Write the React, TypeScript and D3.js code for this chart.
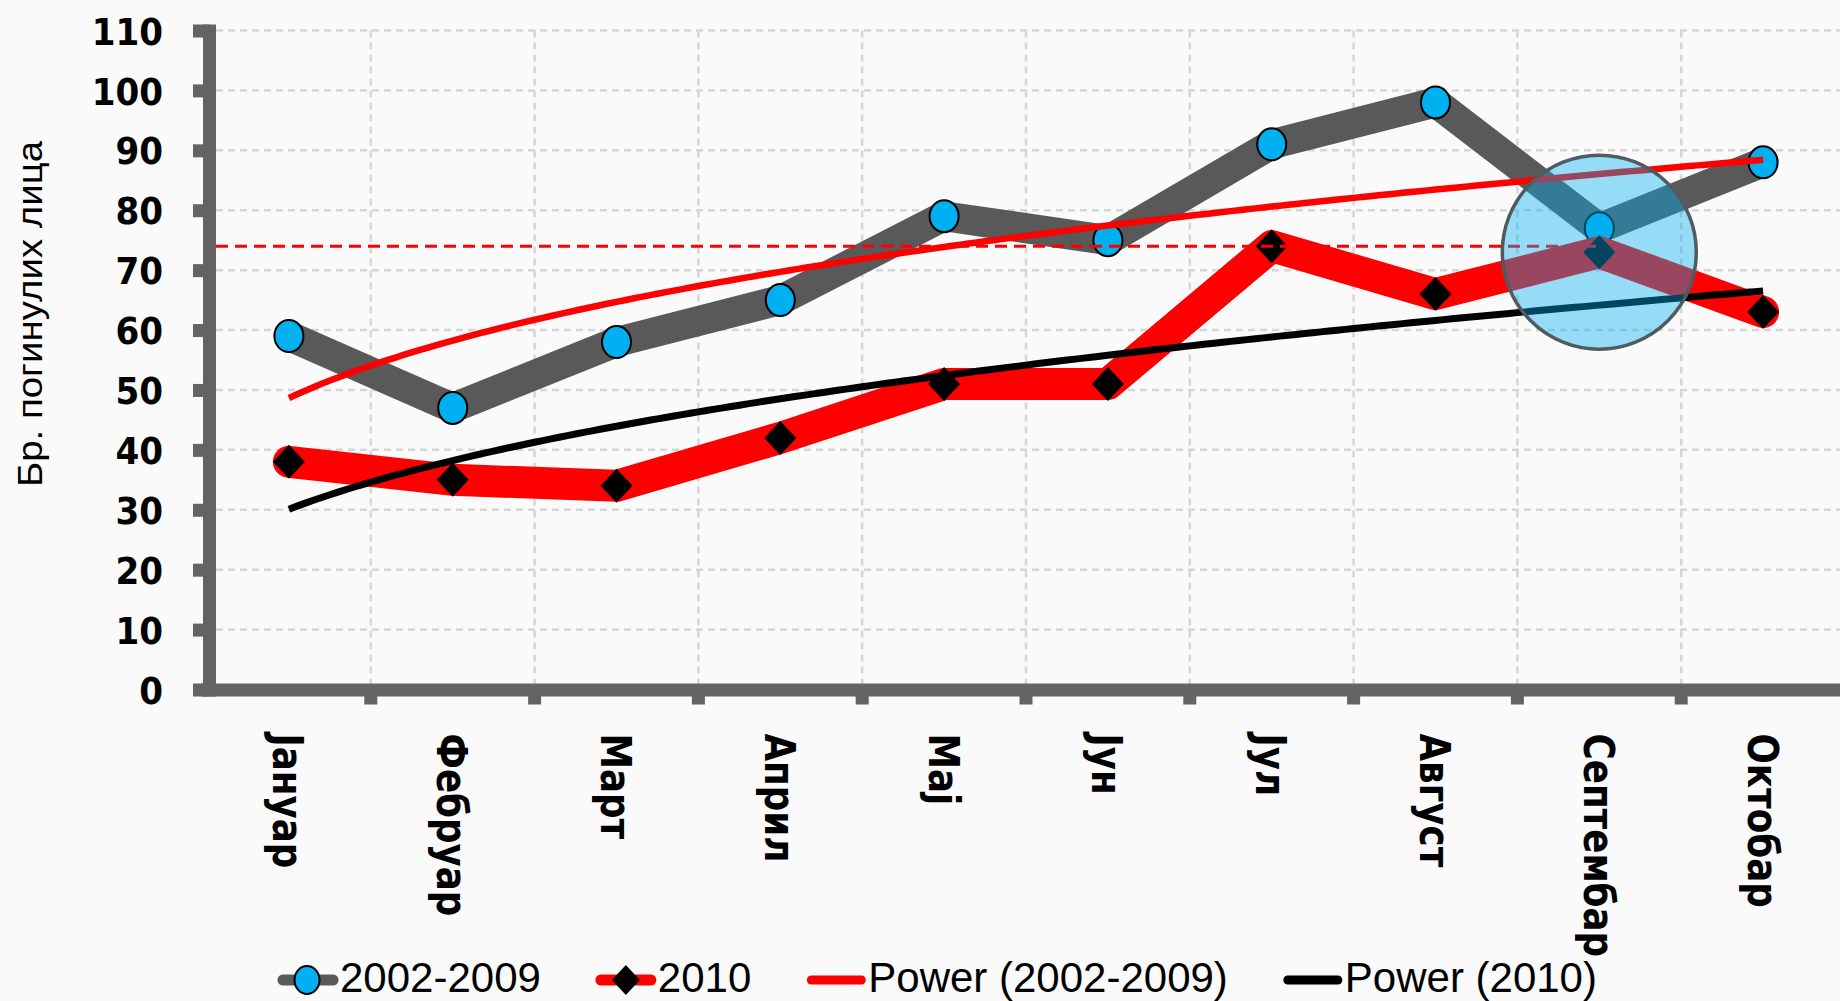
import { useEffect, useRef } from 'react';
import * as d3 from 'd3';

const months = ['Јануар', 'Фебруар', 'Март', 'Април', 'Мај', 'Јун', 'Јул', 'Август', 'Септембар', 'Октобар'];
const avg2002to2009 = [59, 47, 58, 65, 79, 75, 91, 98, 77, 88];
const year2010 = [38, 35, 34, 42, 51, 51, 74, 66, 73, 63];
const yTicks = [0, 10, 20, 30, 40, 50, 60, 70, 80, 90, 100, 110];
const legendLabels = ['2002-2009', '2010', 'Power (2002-2009)', 'Power (2010)'];
const yTitle = 'Бр. погинулих лица';
const refLevel = 74; // dashed line at the July 2010 peak
const refEndMonth = 'Септембар';
const highlightMonth = 'Септембар';

// same fit as an Excel power trendline: least squares on ln(x), ln(y)
function powerFit(values: number[]) {
  const lx = values.map((_, i) => Math.log(i + 1));
  const ly = values.map(v => Math.log(v));
  const mx = d3.mean(lx) as number;
  const my = d3.mean(ly) as number;
  const b = d3.sum(lx, (v, i) => (v - mx) * (ly[i] - my)) / d3.sum(lx, v => (v - mx) ** 2);
  const a = Math.exp(my - b * mx);
  return (x: number) => a * Math.pow(x, b);
}

const W = 1840;
const H = 1001;

const App = () => {
  const svgRef = useRef<SVGSVGElement>(null);

  useEffect(() => {
    const svg = d3.select(svgRef.current);
    svg.selectAll('*').remove();

    const x = d3.scaleBand().domain(months).range([207, 1845]);
    const y = d3.scaleLinear().domain([0, 110]).range([689.5, 30.5]);
    const cx = (m: string) => (x(m) as number) + x.bandwidth() / 2;
    const xi = d3.scaleLinear().domain([1, months.length]).range([cx(months[0]), cx(months[months.length - 1])]);

    svg.append('rect').attr('width', W).attr('height', H).attr('fill', '#fafafa');

    // grid
    const grid = svg.append('g')
      .attr('stroke', '#d6d6d6')
      .attr('stroke-width', 2.5)
      .attr('stroke-dasharray', '7,5');
    grid.selectAll('line.h')
      .data(yTicks.filter(t => t > 0))
      .join('line')
      .attr('class', 'h')
      .attr('x1', 216).attr('x2', W)
      .attr('y1', d => y(d)).attr('y2', d => y(d));
    grid.selectAll('line.v')
      .data(months.slice(1))
      .join('line')
      .attr('class', 'v')
      .attr('x1', d => x(d) as number).attr('x2', d => x(d) as number)
      .attr('y1', y(110)).attr('y2', y(0));

    // axes
    const axisColor = '#636363';
    const gy = svg.append('g')
      .attr('transform', 'translate(209,0)')
      .call(d3.axisLeft(y).tickValues(yTicks).tickSizeInner(16).tickSizeOuter(0).tickPadding(30));
    gy.select('.domain').attr('stroke', axisColor).attr('stroke-width', 13).attr('stroke-linecap', 'square');
    gy.selectAll('.tick line').attr('stroke', axisColor).attr('stroke-width', 13);
    gy.selectAll('.tick text')
      .attr('x', null)
      .attr('dy', '0.36em')
      .attr('transform', 'translate(-46,0) scale(0.9,1)')
      .attr('fill', '#000')
      .style('font-family', '"DejaVu Sans", Verdana, sans-serif')
      .style('font-weight', 'bold')
      .style('font-size', '38px');

    const gx = svg.append('g')
      .attr('transform', `translate(0,${y(0)})`)
      .call(d3.axisBottom(x).tickSize(0).tickSizeOuter(0));
    gx.select('.domain').attr('stroke', axisColor).attr('stroke-width', 13).attr('stroke-linecap', 'square');
    gx.selectAll('.tick text')
      .attr('y', null)
      .attr('dy', '0.36em')
      .attr('text-anchor', 'start')
      .attr('transform', 'translate(0,44) rotate(90) scale(0.83,1)')
      .attr('fill', '#000')
      .style('font-family', '"DejaVu Sans", Verdana, sans-serif')
      .style('font-weight', 'bold')
      .style('font-size', '43px');
    gx.selectAll('line.bound')
      .data(months.slice(1))
      .join('line')
      .attr('class', 'bound')
      .attr('x1', d => x(d) as number).attr('x2', d => x(d) as number)
      .attr('y1', 0).attr('y2', 15)
      .attr('stroke', axisColor).attr('stroke-width', 13);

    svg.append('text')
      .attr('transform', 'translate(42,314) rotate(-90)')
      .attr('text-anchor', 'middle')
      .attr('textLength', 346)
      .attr('lengthAdjust', 'spacingAndGlyphs')
      .style('font-family', '"Liberation Sans", Arial, sans-serif')
      .style('font-size', '35px')
      .attr('fill', '#000')
      .text(yTitle);

    const line = d3.line<number>()
      .x((_, i) => cx(months[i]))
      .y(d => y(d));

    const diamond = (px: number, py: number, hw: number, hh: number) =>
      `M${px},${py - hh}L${px + hw},${py}L${px},${py + hh}L${px - hw},${py}Z`;

    // series 2002-2009
    svg.append('path')
      .datum(avg2002to2009)
      .attr('d', line)
      .attr('fill', 'none')
      .attr('stroke', '#595959')
      .attr('stroke-width', 30)
      .attr('stroke-linejoin', 'round')
      .attr('stroke-linecap', 'round');
    svg.append('g')
      .selectAll('ellipse')
      .data(avg2002to2009)
      .join('ellipse')
      .attr('cx', (_, i) => cx(months[i]))
      .attr('cy', d => y(d))
      .attr('rx', 14.5)
      .attr('ry', 16)
      .attr('fill', '#00b0f0')
      .attr('stroke', '#000')
      .attr('stroke-width', 2);

    // series 2010
    svg.append('path')
      .datum(year2010)
      .attr('d', line)
      .attr('fill', 'none')
      .attr('stroke', '#ff0000')
      .attr('stroke-width', 32)
      .attr('stroke-linejoin', 'round')
      .attr('stroke-linecap', 'round');
    svg.append('g')
      .selectAll('path')
      .data(year2010)
      .join('path')
      .attr('d', (d, i) => diamond(cx(months[i]), y(d), 16, 17))
      .attr('fill', '#000');

    // power trendlines
    const steps = d3.range(1, months.length + 0.001, 0.05);
    const trendLine = d3.line<number[]>().x(d => xi(d[0])).y(d => y(d[1]));
    const fitA = powerFit(avg2002to2009);
    const fitB = powerFit(year2010);
    svg.append('path')
      .attr('d', trendLine(steps.map(s => [s, fitA(s)])))
      .attr('fill', 'none').attr('stroke', '#ff0000').attr('stroke-width', 6.5);
    svg.append('path')
      .attr('d', trendLine(steps.map(s => [s, fitB(s)])))
      .attr('fill', 'none').attr('stroke', '#000').attr('stroke-width', 7);

    // dashed reference line
    svg.append('line')
      .attr('x1', 216).attr('x2', cx(refEndMonth))
      .attr('y1', y(refLevel)).attr('y2', y(refLevel))
      .attr('stroke', '#ff0000').attr('stroke-width', 3)
      .attr('stroke-dasharray', '12,7');

    // highlight circle
    const hi = months.indexOf(highlightMonth);
    svg.append('circle')
      .attr('cx', cx(highlightMonth))
      .attr('cy', y(year2010[hi]))
      .attr('r', 97)
      .attr('fill', '#00b0f0')
      .attr('fill-opacity', 0.4)
      .attr('stroke', '#4f5b61')
      .attr('stroke-width', 3.5);

    // legend
    const legend = svg.append('g');
    const ly = 980;
    let cursor = 278;
    legendLabels.forEach((label, i) => {
      const g = legend.append('g');
      const stroke = ['#595959', '#ff0000', '#ff0000', '#000'][i];
      g.append('line')
        .attr('x1', cursor + 5).attr('x2', cursor + 55)
        .attr('y1', ly).attr('y2', ly)
        .attr('stroke', stroke)
        .attr('stroke-width', i < 2 ? 11 : 9)
        .attr('stroke-linecap', 'round');
      if (i === 0) {
        g.append('ellipse')
          .attr('cx', cursor + 29).attr('cy', ly)
          .attr('rx', 12.5).attr('ry', 14)
          .attr('fill', '#00b0f0').attr('stroke', '#000').attr('stroke-width', 2);
      } else if (i === 1) {
        g.append('path').attr('d', diamond(cursor + 30, ly, 14, 15)).attr('fill', '#000');
      }
      const t = g.append('text')
        .attr('x', cursor + 62)
        .attr('y', 992)
        .attr('fill', '#000')
        .style('font-family', '"Liberation Sans", Arial, sans-serif')
        .style('font-size', '42px')
        .text(label);
      const w = (t.node() as SVGTextElement).getComputedTextLength();
      cursor = cursor + 62 + w + 55;
    });
  }, []);

  return (
    <svg
      ref={svgRef}
      width={W}
      height={H}
      style={{ position: 'absolute', left: 0, top: 0, display: 'block' }}
    />
  );
};

export default App;
